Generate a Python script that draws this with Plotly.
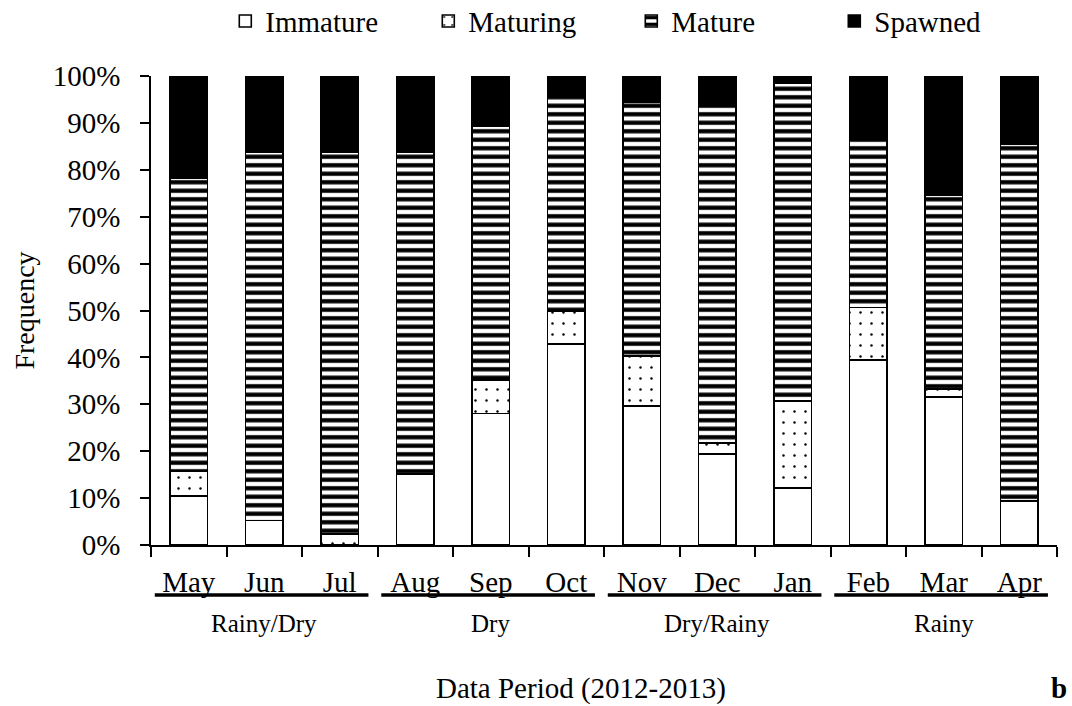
import plotly.graph_objects as go

months = ["May", "Jun", "Jul", "Aug", "Sep", "Oct", "Nov", "Dec", "Jan", "Feb", "Mar", "Apr"]
immature = [10.4, 5.2, 0.0, 15.1, 28.0, 42.8, 29.7, 19.4, 12.2, 39.4, 31.6, 9.4]
maturing = [5.4, 0.0, 2.3, 0.0, 7.2, 7.1, 10.6, 2.3, 18.5, 11.2, 1.7, 0.0]
mature = [62.5, 78.5, 81.4, 68.6, 54.0, 45.6, 54.1, 72.1, 67.7, 36.0, 41.2, 76.1]
spawned = [21.7, 16.3, 16.3, 16.3, 10.8, 4.5, 5.6, 6.2, 1.6, 13.4, 25.5, 14.5]

seasons = ["Rainy/Dry", "Dry", "Dry/Rainy", "Rainy"]
y_ticks = [0, 10, 20, 30, 40, 50, 60, 70, 80, 90, 100]
y_tick_text = ["0%", "10%", "20%", "30%", "40%", "50%", "60%", "70%", "80%", "90%", "100%"]

FONT = "Liberation Serif, Times New Roman, serif"

fig = go.Figure()
line = dict(color="black", width=1.6)
fig.add_trace(go.Bar(x=months, y=immature, name="Immature",
                     marker=dict(color="white", line=line)))
fig.add_trace(go.Bar(x=months, y=maturing, name="Maturing",
                     marker=dict(color="white", line=line,
                                 pattern=dict(shape=".", size=11, solidity=0.04,
                                              fgcolor="black", bgcolor="white",
                                              fgopacity=1))))
fig.add_trace(go.Bar(x=months, y=mature, name="Mature",
                     marker=dict(color="white", line=line,
                                 pattern=dict(shape="-", size=8.5, solidity=0.5,
                                              fgcolor="black", bgcolor="white",
                                              fgopacity=1))))
fig.add_trace(go.Bar(x=months, y=spawned, name="Spawned",
                     marker=dict(color="black", line=line)))

fig.update_layout(
    barmode="stack", bargap=0.5,
    width=1072, height=706,
    margin=dict(l=151, r=15, t=76, b=161, autoexpand=False),
    paper_bgcolor="white", plot_bgcolor="white",
    font=dict(family=FONT, color="black", size=29),
    showlegend=True,
    legend=dict(orientation="h", x=0.082, xanchor="left", y=1.117, yanchor="middle",
                font=dict(size=29), entrywidth=158, entrywidthmode="pixels",
                traceorder="normal"),
)
fig.update_yaxes(range=[0, 100], tickvals=y_ticks, ticktext=y_tick_text, showgrid=False,
                 showline=True, linecolor="black", linewidth=1.5,
                 ticks="outside", ticklen=9, tickcolor="black", tickwidth=1.5,
                 ticklabelstandoff=14, zeroline=False, tickfont=dict(size=29),
                 title=dict(text="Frequency", font=dict(size=28), standoff=10))
fig.update_xaxes(showgrid=False, showline=True, linecolor="black", linewidth=1.5,
                 ticks="outside", tickson="boundaries", ticklen=10, tickcolor="black",
                 tickwidth=1.5, ticklabelstandoff=10, tickfont=dict(size=29),
                 range=[-0.5, 11.5])

# season group underlines and labels
for g, s in enumerate(seasons):
    start = g * 3
    fig.add_shape(type="line", xref="x", yref="paper",
                  x0=start - 0.45, x1=start + 2.38, y0=-0.1066, y1=-0.1066,
                  line=dict(color="black", width=3.5))
    fig.add_annotation(x=start + 1, y=-0.168, xref="x", yref="paper",
                       yanchor="middle", text=s, showarrow=False, font=dict(size=25))

fig.add_annotation(x=0.475, y=-0.305, xref="paper", yref="paper", yanchor="middle",
                   text="Data Period (2012-2013)", showarrow=False, font=dict(size=29))
fig.add_annotation(x=1.013, y=-0.305, xref="paper", yref="paper", yanchor="middle",
                   text="<b>b</b>", showarrow=False, font=dict(size=29))

fig.write_html("out.html", config={"displayModeBar": False},
               post_script="document.body.style.margin='0px';")
